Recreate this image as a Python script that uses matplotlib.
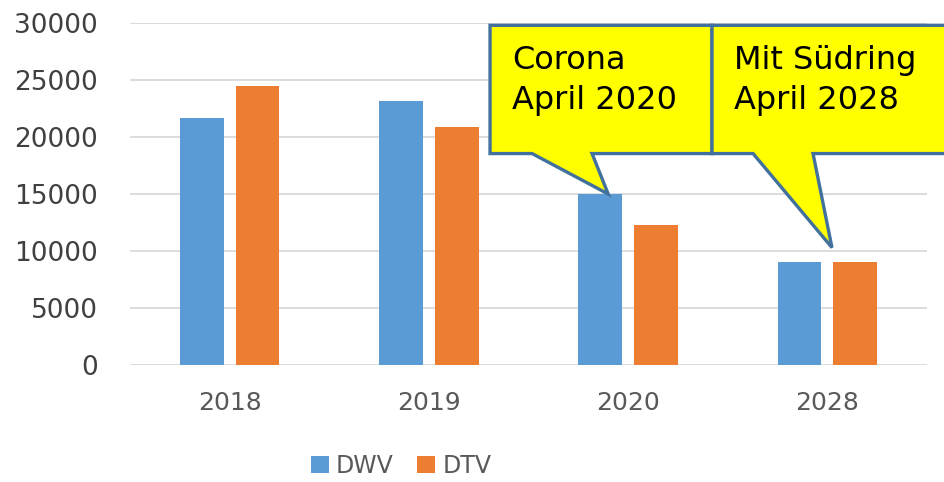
import numpy as np
import matplotlib
matplotlib.use("Agg")
import matplotlib.pyplot as plt
from matplotlib.patches import Polygon

# Verkehrszahlen
jahre = ["2018", "2019", "2020", "2028"]
dwv = [21700, 23200, 15000, 9000]
dtv = [24500, 20900, 12250, 9000]

blau = "#5B9BD5"
orange = "#ED7D31"
rahmen = "#41719C"
gelb = "#FFFF00"

fig = plt.figure(figsize=(9.44, 4.82), dpi=100)
ax = fig.add_axes([0.1377, 0.2427, 0.8443, 0.7095])

x = np.arange(len(jahre))
b = 0.22
ax.bar(x - 0.14, dwv, b, color=blau, label="DWV", zorder=2)
ax.bar(x + 0.14, dtv, b, color=orange, label="DTV", zorder=2)

ax.set_xlim(-0.5, len(jahre) - 0.5)
ax.set_ylim(0, 30000)
ax.set_yticks(range(0, 30001, 5000))
ax.grid(axis="y", color="#D9D9D9", linewidth=1.3, zorder=0)
for s in ax.spines.values():
    s.set_visible(False)
ax.tick_params(length=0)
ax.tick_params(axis="y", labelsize=19, labelcolor="#404040", pad=23)
ax.set_xticks(x)
ax.set_xticklabels(jahre, fontsize=18, color="#595959")
ax.tick_params(axis="x", pad=19)


def sprechblase(links, rechts, unten, oben, fuss1, fuss2, spitze, text):
    pts = [(links, oben), (rechts, oben), (rechts, unten), (fuss2, unten),
           spitze, (fuss1, unten), (links, unten)]
    ax.add_patch(Polygon(pts, closed=True, facecolor=gelb, edgecolor=rahmen,
                         linewidth=2.4, joinstyle="miter", zorder=5, clip_on=False))
    ax.text(links + 0.11, 24950, text, fontsize=23,
            va="center", ha="left", linespacing=1.38, color="black",
            zorder=6, clip_on=False)


# Sprechblasen
sprechblase(1.307, 2.421, 18550, 29800, 1.518, 1.819, (1.90, dwv[2]),
            "Corona\nApril 2020")
sprechblase(2.421, 3.70, 18550, 29800, 2.627, 2.928, (3.023, 10300),
            "Mit Südring\nApril 2028")

fig.legend(loc="lower center", bbox_to_anchor=(0.425, -0.035), ncol=2,
           frameon=False, handlelength=0.75, handleheight=0.75,
           handletextpad=0.3, columnspacing=1.0,
           prop={"size": 17}, labelcolor="#595959")

fig.savefig("out.png", dpi=100)
